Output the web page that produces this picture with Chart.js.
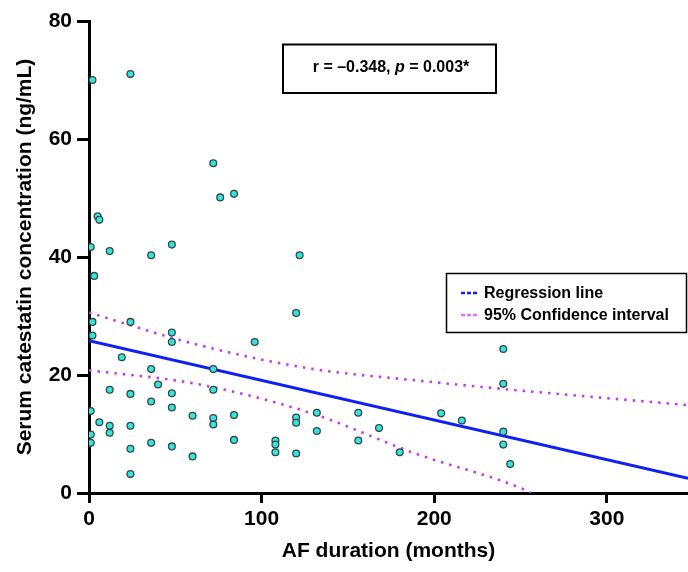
<!DOCTYPE html>
<html>
<head>
<meta charset="utf-8">
<script src="https://cdn.jsdelivr.net/npm/chart.js@4.4.1/dist/chart.umd.min.js"></script>
<style>
  html, body { margin: 0; padding: 0; background: #ffffff; }
  #wrap { width: 688px; height: 572px; }
</style>
</head>
<body>
<div id="wrap"><canvas id="c" width="688" height="572"></canvas></div>
<script>
// ---- Data ----
const afMonths = [2, 24, 72, 76, 84, 5, 6, 1, 12, 48, 36, 3, 2, 24, 48, 48, 2, 19, 36, 72,
  40, 12, 24, 48, 72, 36, 48, 1, 60, 72, 84, 72, 6, 12, 12, 24, 1, 1, 84, 24,
  36, 48, 60, 24, 122, 120, 96, 108, 108, 108, 120, 120, 120, 132, 132, 156, 156, 168, 240, 240,
  180, 204, 216, 240, 240, 244];
const catestatin = [70.0, 71.0, 55.9, 50.1, 50.7, 46.9, 46.3, 41.7, 41.0, 42.1, 40.3, 36.8, 29.0, 29.0, 27.2, 25.6, 26.7, 23.0, 21.0, 21.0,
  18.4, 17.5, 16.8, 16.9, 17.5, 15.5, 14.5, 13.9, 13.1, 12.7, 13.2, 11.6, 12.0, 11.4, 10.2, 11.4, 9.9, 8.5, 9.0, 7.5,
  8.5, 7.9, 6.2, 3.2, 40.3, 30.5, 25.6, 8.9, 8.2, 6.9, 12.8, 11.9, 6.7, 13.6, 10.5, 13.6, 8.9, 11.0, 24.4, 18.5,
  6.9, 13.5, 12.3, 10.4, 8.2, 4.9];

const regX = [0, 347];
const regY = [25.8, 2.5];

const ciUpperX = [0, 62, 128, 189, 256, 347];
const ciUpperY = [30.6, 25.2, 21.1, 19.1, 17.2, 14.9];
const ciLowerX = [0, 62, 128, 189, 252, 256];
const ciLowerY = [20.8, 18.5, 13.6, 6.7, 0.6, 0];

const xTicks = [0, 100, 200, 300];
const yTicks = [0, 20, 40, 60, 80];

const xTitle = 'AF duration (months)';
const yTitle = 'Serum catestatin concentration (ng/mL)';
const legendLabels = ['Regression line', '95% Confidence interval'];
const statText = ['r = \u20130.348, ', 'p', ' = 0.003*'];

// ---- Build ----
const pts = (xs, ys) => xs.map((x, i) => ({ x: x, y: ys[i] }));
const FONT = "'Liberation Sans', Arial, Helvetica, sans-serif";
Chart.defaults.font.family = FONT;
Chart.defaults.color = '#000';

const BLUE = '#1020f0';
const PURPLE = '#c23cf0';

const overlay = {
  id: 'overlay',
  afterDraw(chart) {
    const ctx = chart.ctx;
    ctx.save();
    // statistics box
    ctx.strokeStyle = '#000';
    ctx.lineWidth = 2;
    ctx.strokeRect(283, 44.5, 213, 48.5);
    ctx.textBaseline = 'middle';
    ctx.fillStyle = '#000';
    const fB = 'bold 16px ' + FONT;
    const fBI = 'italic bold 16px ' + FONT;
    ctx.font = fB; const w1 = ctx.measureText(statText[0]).width;
    ctx.font = fBI; const w2 = ctx.measureText(statText[1]).width;
    ctx.font = fB; const w3 = ctx.measureText(statText[2]).width;
    let sx = 391 - (w1 + w2 + w3) / 2;
    const sy = 68;
    ctx.textAlign = 'left';
    ctx.font = fB; ctx.fillText(statText[0], sx, sy); sx += w1;
    ctx.font = fBI; ctx.fillText(statText[1], sx, sy); sx += w2;
    ctx.font = fB; ctx.fillText(statText[2], sx, sy);

    // legend box
    ctx.lineWidth = 1.5;
    ctx.strokeRect(446.5, 273.5, 240, 59);
    const rows = [293, 315];
    const cols = [BLUE, '#d47af2'];
    for (let i = 0; i < 2; i++) {
      ctx.beginPath();
      ctx.setLineDash([4, 2]);
      ctx.strokeStyle = cols[i];
      ctx.lineWidth = 2.5;
      ctx.moveTo(461, rows[i]);
      ctx.lineTo(479, rows[i]);
      ctx.stroke();
      ctx.setLineDash([]);
      ctx.font = 'bold 16px ' + FONT;
      ctx.fillStyle = '#000';
      ctx.fillText(legendLabels[i], 484, rows[i] + 1);
    }
    ctx.restore();
  }
};

new Chart(document.getElementById('c'), {
  type: 'scatter',
  data: {
    datasets: [
      {
        label: 'data',
        data: pts(afMonths, catestatin),
        pointRadius: 3.4,
        pointBackgroundColor: '#33e6dc',
        pointBorderColor: '#35484a',
        pointBorderWidth: 1.3,
        showLine: false
      },
      {
        label: legendLabels[0],
        data: pts(regX, regY),
        showLine: true,
        borderColor: BLUE,
        borderWidth: 3,
        pointRadius: 0
      },
      {
        label: 'upper',
        data: pts(ciUpperX, ciUpperY),
        showLine: true,
        borderColor: PURPLE,
        borderWidth: 2.6,
        borderDash: [2.5, 6],
        cubicInterpolationMode: 'monotone',
        pointRadius: 0
      },
      {
        label: 'lower',
        data: pts(ciLowerX, ciLowerY),
        showLine: true,
        borderColor: PURPLE,
        borderWidth: 2.6,
        borderDash: [2.5, 6],
        cubicInterpolationMode: 'monotone',
        pointRadius: 0
      }
    ]
  },
  options: {
    responsive: false,
    animation: false,
    devicePixelRatio: 1,
    layout: { autoPadding: false, padding: { top: 21, right: 0, left: 0, bottom: 0 } },
    plugins: { legend: { display: false }, tooltip: { enabled: false } },
    scales: {
      x: {
        type: 'linear',
        min: 0,
        max: 347,
        afterBuildTicks(s) { s.ticks = xTicks.map(v => ({ value: v })); },
        afterFit(s) { s.height = 79; s.paddingRight = 0; s.paddingLeft = 0; },
        border: { display: true, width: 3, color: '#000' },
        grid: { drawOnChartArea: false, drawTicks: true, tickLength: 10, tickWidth: 3, tickColor: '#000' },
        ticks: { font: { size: 21, weight: 'bold' }, color: '#000', padding: 4, maxRotation: 0 },
        title: { display: true, text: xTitle, font: { size: 21, weight: 'bold' }, color: '#000', padding: { top: 0, bottom: 8 } }
      },
      y: {
        type: 'linear',
        min: 0,
        max: 80,
        afterBuildTicks(s) { s.ticks = yTicks.map(v => ({ value: v })); },
        afterFit(s) { s.width = 89; },
        border: { display: true, width: 3, color: '#000' },
        grid: { drawOnChartArea: false, drawTicks: true, tickLength: 12, tickWidth: 3, tickColor: '#000' },
        ticks: { font: { size: 21, weight: 'bold' }, color: '#000', padding: 5 },
        title: { display: true, text: yTitle, font: { size: 21, weight: 'bold' }, color: '#000', padding: { top: 13, bottom: 0 } }
      }
    }
  },
  plugins: [overlay]
});
</script>
</body>
</html>
